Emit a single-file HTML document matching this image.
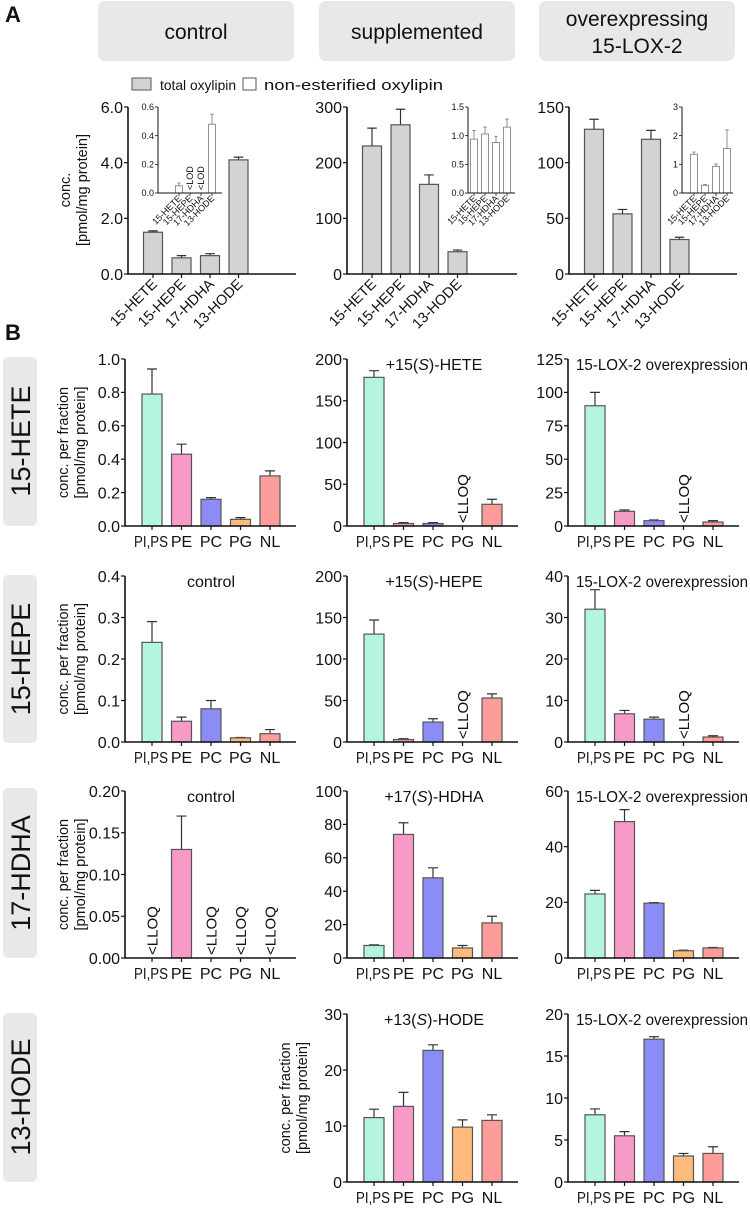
<!DOCTYPE html>
<html><head><meta charset="utf-8"><style>
body{margin:0;background:#fff;}
svg text{font-family:"Liberation Sans",Arial,sans-serif;fill:#111;}
</style></head><body>
<svg id="fig" width="750" height="1205" viewBox="0 0 750 1205" xmlns="http://www.w3.org/2000/svg">
<text x="5" y="22" font-size="22" font-weight="bold">A</text>
<text x="5" y="340" font-size="22" font-weight="bold">B</text>
<g><rect x="98" y="1" width="196" height="60" rx="7" fill="#e8e8e8"/><text x="196" y="39" font-size="21" text-anchor="middle">control</text></g>
<g><rect x="319" y="1" width="196" height="60" rx="7" fill="#e8e8e8"/><text x="417" y="39" font-size="21" text-anchor="middle">supplemented</text></g>
<g><rect x="539" y="1" width="196" height="60" rx="7" fill="#e8e8e8"/><text x="637" y="26" font-size="21" text-anchor="middle">overexpressing</text><text x="637" y="53" font-size="21" text-anchor="middle">15-LOX-2</text></g>
<g>
<g><rect x="132" y="78" width="19" height="12" fill="#d3d3d3" stroke="#555"/><text x="160" y="90" font-size="14" textLength="76" lengthAdjust="spacingAndGlyphs">total oxylipin</text></g>
<g><rect x="243" y="78" width="13" height="12" fill="#fff" stroke="#555"/><text x="264" y="90" font-size="15" textLength="179" lengthAdjust="spacingAndGlyphs">non-esterified oxylipin</text></g>
</g>
<g><rect x="3" y="357" width="34" height="169" rx="5" fill="#e8e8e8"/><text transform="translate(30,441) rotate(-90)" font-size="27" text-anchor="middle">15-HETE</text></g>
<g><rect x="3" y="575" width="34" height="168" rx="5" fill="#e8e8e8"/><text transform="translate(30,659) rotate(-90)" font-size="27" text-anchor="middle">15-HEPE</text></g>
<g><rect x="3" y="788" width="34" height="170" rx="5" fill="#e8e8e8"/><text transform="translate(30,873) rotate(-90)" font-size="27" text-anchor="middle">17-HDHA</text></g>
<g><rect x="3" y="1013" width="34" height="169" rx="5" fill="#e8e8e8"/><text transform="translate(30,1097) rotate(-90)" font-size="27" text-anchor="middle">13-HODE</text></g>
<text transform="translate(70,190) rotate(-90)" font-size="14.5" text-anchor="middle">conc.</text>
<text transform="translate(87,190) rotate(-90)" font-size="14.5" text-anchor="middle">[pmol/mg protein]</text>
</svg>
<script>
// ---- Panel A data ----
const analytesA = ["15-HETE","15-HEPE","17-HDHA","13-HODE"];
const aCtrlTotal = [1.5, 0.58, 0.66, 4.1];
const aCtrlTotalErr = [0.05, 0.08, 0.07, 0.1];
const aSuppTotal = [230, 268, 161, 40];
const aSuppTotalErr = [32, 28, 17, 3];
const aOverTotal = [130, 54, 121, 31];
const aOverTotalErr = [9, 4, 8, 2];
const aCtrlFree = [0.05, null, null, 0.48];
const aCtrlFreeErr = [0.02, 0, 0, 0.07];
const aSuppFree = [0.94, 1.03, 0.88, 1.15];
const aSuppFreeErr = [0.15, 0.12, 0.11, 0.14];
const aOverFree = [1.35, 0.27, 0.93, 1.55];
const aOverFreeErr = [0.08, 0.03, 0.08, 0.65];
const aCtrlTicks = [0, 2, 4, 6];
const aSuppTicks = [0, 100, 200, 300];
const aOverTicks = [0, 50, 100, 150];
const aCtrlInsetTicks = [0, 0.2, 0.4, 0.6];
const aSuppInsetTicks = [0, 0.5, 1.0, 1.5];
const aOverInsetTicks = [0, 1, 2, 3];
// ---- Panel B data ----
const fractions = ["PI,PS","PE","PC","PG","NL"];
const fracColors = ["#b3f5dd","#f79ac7","#8c8cf7","#fdbb7c","#fd9d9a"];
const hete_ctrl = [0.79, 0.43, 0.16, 0.04, 0.30];
const hete_ctrl_err = [0.15, 0.06, 0.01, 0.01, 0.03];
const hete_supp = [178, 3, 3, null, 26];
const hete_supp_err = [8, 1, 1, 0, 6];
const hete_over = [90, 11, 4, null, 3];
const hete_over_err = [10, 1, 0.5, 0, 1];
const hepe_ctrl = [0.24, 0.05, 0.08, 0.01, 0.02];
const hepe_ctrl_err = [0.05, 0.01, 0.02, 0.001, 0.01];
const hepe_supp = [130, 3, 24, null, 53];
const hepe_supp_err = [17, 1, 4, 0, 5];
const hepe_over = [32, 6.8, 5.5, null, 1.2];
const hepe_over_err = [4.7, 0.8, 0.5, 0, 0.3];
const hdha_ctrl = [null, 0.13, null, null, null];
const hdha_ctrl_err = [0, 0.04, 0, 0, 0];
const hdha_supp = [7.5, 74, 48, 6, 21];
const hdha_supp_err = [0.4, 7, 6, 1.5, 4];
const hdha_over = [23, 49, 19.7, 2.6, 3.6];
const hdha_over_err = [1.3, 4.3, 0.2, 0.2, 0.2];
const hode_supp = [11.5, 13.5, 23.5, 9.8, 11];
const hode_supp_err = [1.5, 2.5, 1, 1.3, 1];
const hode_over = [8, 5.5, 17, 3.1, 3.4];
const hode_over_err = [0.7, 0.5, 0.3, 0.3, 0.8];
const ticks_hete_ctrl = [0, 0.2, 0.4, 0.6, 0.8, 1.0];
const ticks_200 = [0, 50, 100, 150, 200];
const ticks_125 = [0, 25, 50, 75, 100, 125];
const ticks_hepe_ctrl = [0, 0.1, 0.2, 0.3, 0.4];
const ticks_40 = [0, 10, 20, 30, 40];
const ticks_hdha_ctrl = [0, 0.05, 0.10, 0.15, 0.20];
const ticks_100 = [0, 20, 40, 60, 80, 100];
const ticks_60 = [0, 20, 40, 60];
const ticks_30 = [0, 10, 20, 30];
const ticks_20 = [0, 5, 10, 15, 20];

const svg = document.getElementById('fig');
const NS = "http://www.w3.org/2000/svg";
function mk(tag, attrs, parent){ const e=document.createElementNS(NS,tag); for(const k in attrs) e.setAttribute(k,attrs[k]); (parent||svg).appendChild(e); return e; }

function panel(o){
  const g = mk('g', {});
  
  
  const max = o.ticks[o.ticks.length-1];
  const y = v => o.y0 - (v/max)*(o.y0-o.yTop);
  const x = i => o.ax + o.off + i*o.step;
  const fs = o.fs;
  o.vals.forEach((v,i)=>{
    if(v===null){
      if(o.lowLabel){
        const t = mk('text',{transform:`translate(${x(i)+ (o.small?3:5.5)},${o.y0-3}) rotate(-90)`,'font-size':o.small?9:15},g);
        t.textContent = o.lowLabel;
        
        
      }
      return;
    }
    const col = Array.isArray(o.fill)?o.fill[i]:o.fill;
    const top = y(v);
    if(o.errs[i]>0){
      const et = y(v+o.errs[i]);
      const l = mk('path',{d:`M${x(i)} ${top} V${et} M${x(i)-o.bw*0.25} ${et} H${x(i)+o.bw*0.25}`,stroke:o.small?'#777':'#333','stroke-width':o.small?0.8:1.2,fill:'none'},g);
      
      
    }
    const r = mk('rect',{x:x(i)-o.bw/2,y:top,width:o.bw,height:Math.max(o.y0-top,0.5),fill:col,stroke:o.small?'#777':'#555','stroke-width':o.small?0.8:1.2},g);
    
    
  });
  const ax = mk('path',{d:`M${o.ax} ${o.yTop} V${o.y0} H${o.ax+o.len}`,stroke:'#111','stroke-width':o.small?1:1.6,fill:'none'},g);
  
  
  const tl = o.small?3:4;
  o.ticks.forEach(t=>{
    mk('path',{d:`M${o.ax-tl} ${y(t)} H${o.ax}`,stroke:'#111','stroke-width':o.small?0.8:1.2},g);
    const tx = mk('text',{x:o.ax-tl-1,y:y(t)+fs*0.36,'font-size':fs,'text-anchor':'end'},g);
    tx.textContent = t.toFixed(o.dec);
    
    
  });
  o.cats.forEach((c,i)=>{
    mk('path',{d:`M${x(i)} ${o.y0} V${o.y0+tl}`,stroke:'#111','stroke-width':o.small?0.8:1.2},g);
    let tx;
    if(o.rot){
      tx = mk('text',{transform:`translate(${x(i)+(o.small?3:5)},${o.y0+(o.small?6:11)}) rotate(-45)`,'font-size':o.cfs,'text-anchor':'end'},g);
    } else {
      tx = mk('text',{x:x(i)-(c.length>3?1:0),y:o.y0+21,'font-size':o.cfs,'text-anchor':'middle'},g);
      if(c.length>3){ tx.setAttribute('textLength', 34); tx.setAttribute('lengthAdjust','spacingAndGlyphs'); }
    }
    tx.textContent = c;
    
    
  });
  if(o.title){
    const tt = mk('text',{x:o.tx,y:o.yTop+11,'font-size':16,'text-anchor':o.tanchor||'middle'},g);
    tt.innerHTML = o.title;
    if(o.tlen){ tt.setAttribute('textLength', o.tlen); tt.setAttribute('lengthAdjust','spacingAndGlyphs'); }
    
    
  }
  if(o.ylab){
    const cy=(o.y0+o.yTop)/2;
    const a=mk('text',{transform:`translate(${o.ax-57},${cy}) rotate(-90)`,'font-size':14.5,'text-anchor':'middle'},g);
    a.textContent='conc. per fraction';
    
    
    const b=mk('text',{transform:`translate(${o.ax-40},${cy}) rotate(-90)`,'font-size':14.5,'text-anchor':'middle'},g);
    b.textContent='[pmol/mg protein]';
    
    
  }
}
const Amain = {y0:274,yTop:107,off:25,step:28.5,bw:19,len:168,fs:16,cfs:14.5,rot:true,cats:analytesA,fill:'#d3d3d3'};
panel(Object.assign({},Amain,{name:'a-control-total',ax:128,vals:aCtrlTotal,errs:aCtrlTotalErr,ticks:aCtrlTicks,dec:1}));
panel(Object.assign({},Amain,{name:'a-supplemented-total',ax:347,vals:aSuppTotal,errs:aSuppTotalErr,ticks:aSuppTicks,dec:0,len:170}));
panel(Object.assign({},Amain,{name:'a-overexpressing-total',ax:569,vals:aOverTotal,errs:aOverTotalErr,ticks:aOverTicks,dec:0}));
const Ains = {y0:193,yTop:107,step:11,bw:7,fs:9,cfs:9,rot:true,small:true,cats:analytesA,fill:'#fff',lowLabel:'<LOD'};
panel(Object.assign({},Ains,{name:'a-control-inset',ax:158,off:21,len:64,vals:aCtrlFree,errs:aCtrlFreeErr,ticks:aCtrlInsetTicks,dec:1}));
panel(Object.assign({},Ains,{name:'a-supplemented-inset',ax:468,off:6,len:47,vals:aSuppFree,errs:aSuppFreeErr,ticks:aSuppInsetTicks,dec:1}));
panel(Object.assign({},Ains,{name:'a-overexpressing-inset',ax:682,off:12,len:51,vals:aOverFree,errs:aOverFreeErr,ticks:aOverInsetTicks,dec:0}));
const B = {off:27,step:29.5,bw:20,len:171,fs:16,cfs:16,cats:fractions,fill:fracColors,lowLabel:'<LLOQ'};
const rows=[{y0:526,yTop:359},{y0:742,yTop:576},{y0:958,yTop:791},{y0:1182,yTop:1014}];
const C1=125,C2=347,C3=568;
const over='15-LOX-2 overexpression';
const OL=172;
panel(Object.assign({},B,rows[0],{name:'b-15-hete-control',ax:C1,vals:hete_ctrl,errs:hete_ctrl_err,ticks:ticks_hete_ctrl,dec:1,ylab:true}));
panel(Object.assign({},B,rows[0],{name:'b-15-hete-supplemented',ax:C2,vals:hete_supp,errs:hete_supp_err,ticks:ticks_200,dec:0,title:'+15(<tspan font-style="italic">S</tspan>)-HETE',tx:434}));
panel(Object.assign({},B,rows[0],{name:'b-15-hete-overexpression',ax:C3,vals:hete_over,errs:hete_over_err,ticks:ticks_125,dec:0,title:over,tx:576,tanchor:'start',tlen:OL}));
panel(Object.assign({},B,rows[1],{name:'b-15-hepe-control',ax:C1,vals:hepe_ctrl,errs:hepe_ctrl_err,ticks:ticks_hepe_ctrl,dec:1,ylab:true,title:'control',tx:211}));
panel(Object.assign({},B,rows[1],{name:'b-15-hepe-supplemented',ax:C2,vals:hepe_supp,errs:hepe_supp_err,ticks:ticks_200,dec:0,title:'+15(<tspan font-style="italic">S</tspan>)-HEPE',tx:434}));
panel(Object.assign({},B,rows[1],{name:'b-15-hepe-overexpression',ax:C3,vals:hepe_over,errs:hepe_over_err,ticks:ticks_40,dec:0,title:over,tx:576,tanchor:'start',tlen:OL}));
panel(Object.assign({},B,rows[2],{name:'b-17-hdha-control',ax:C1,vals:hdha_ctrl,errs:hdha_ctrl_err,ticks:ticks_hdha_ctrl,dec:2,ylab:true,title:'control',tx:211}));
panel(Object.assign({},B,rows[2],{name:'b-17-hdha-supplemented',ax:C2,vals:hdha_supp,errs:hdha_supp_err,ticks:ticks_100,dec:0,title:'+17(<tspan font-style="italic">S</tspan>)-HDHA',tx:434}));
panel(Object.assign({},B,rows[2],{name:'b-17-hdha-overexpression',ax:C3,vals:hdha_over,errs:hdha_over_err,ticks:ticks_60,dec:0,title:over,tx:576,tanchor:'start',tlen:OL}));
panel(Object.assign({},B,rows[3],{name:'b-13-hode-supplemented',ax:C2,vals:hode_supp,errs:hode_supp_err,ticks:ticks_30,dec:0,ylab:true,title:'+13(<tspan font-style="italic">S</tspan>)-HODE',tx:434}));
panel(Object.assign({},B,rows[3],{name:'b-13-hode-overexpression',ax:C3,vals:hode_over,errs:hode_over_err,ticks:ticks_20,dec:0,title:over,tx:576,tanchor:'start',tlen:OL}));
</script>
</body></html>
